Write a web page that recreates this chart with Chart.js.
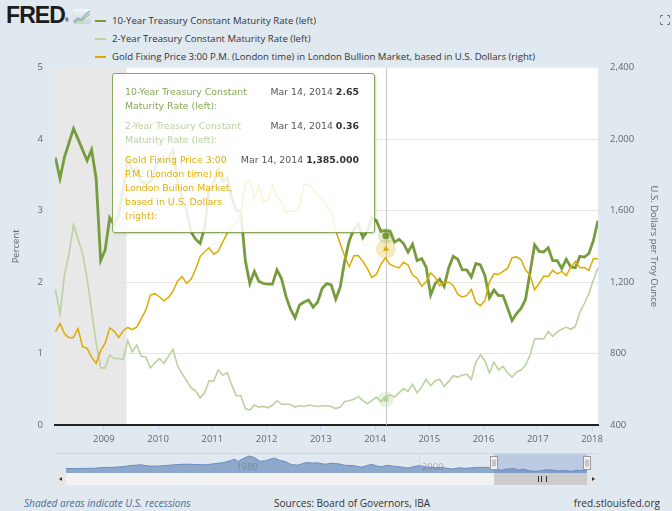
<!DOCTYPE html>
<html>
<head>
<meta charset="utf-8">
<script src="https://cdn.jsdelivr.net/npm/chart.js@4.4.1/dist/chart.umd.min.js"></script>
<style>
  body { margin: 0; width: 672px; height: 511px; background: #e1e9f0; position: relative; overflow: hidden;
         font-family: "Open Sans", sans-serif; color: #333; }
  #logo { position: absolute; left: 6px; top: 2px; font: bold 23px "Liberation Sans", sans-serif; letter-spacing: -0.9px; color: #1c1c1c; }
  #logo sup { font-size: 5px; letter-spacing: 0; vertical-align: 1px; }
  #icon { position: absolute; left: 73px; top: 9px; }
  #full { position: absolute; left: 660px; top: 15px; }
  .leg { position: absolute; left: 95px; height: 16px; line-height: 16px; font-size: 9.6px; white-space: nowrap; color: #333; }
  .leg i { display: inline-block; width: 11px; height: 2px; vertical-align: middle; margin-right: 6px; }
  #main { position: absolute; left: 0; top: 50px; }
  #nav { position: absolute; left: 55px; top: 453px; }
  #navTop { position: absolute; left: 55px; top: 453px; width: 543px; height: 1px; background: #ccd6eb; }
  #track { position: absolute; left: 55px; top: 473px; width: 543px; height: 12px; background: #f2f2f2; }
  .btn { position: absolute; top: 473px; width: 11px; height: 12px; background: #e6e6e6; }
  .btn b { position: absolute; top: 4px; width: 0; height: 0; border-top: 2px solid transparent; border-bottom: 2px solid transparent; }
  #thumb { position: absolute; top: 473px; height: 12px; background: #cccccc; }
  #thumb span { position: absolute; left: 50%; top: 3px; width: 7px; height: 6px; margin-left: -3px;
                border-left: 1px solid #333; border-right: 1px solid #333; }
  #thumb span:after { content: ""; position: absolute; left: 2px; top: 0; width: 1px; height: 6px; background: #333; }
  #tip { position: absolute; left: 112px; top: 73px; width: 263px; height: 160px; box-sizing: border-box;
         background: rgba(255,255,255,0.86); border: 1px solid #8aa85a; border-radius: 3px;
         box-shadow: 1px 1px 2px rgba(0,0,0,0.18); padding: 11px 15px 0 12px;
         font: 9.4px "DejaVu Sans", sans-serif; line-height: 14px; }
  .row { display: flex; justify-content: space-between; margin-bottom: 6px; }
  .row .v { white-space: nowrap; color: #555; }
  .row .v b { color: #333; }
  .foot { position: absolute; top: 496px; font-size: 10.1px; line-height: 14px; white-space: nowrap; }
</style>
</head>
<body>
<div id="logo">FRED<sup>&reg;</sup></div>
<svg id="icon" width="18" height="15" viewBox="0 0 18 15">
  <defs><linearGradient id="g" x1="0" y1="0" x2="0" y2="1"><stop offset="0" stop-color="#f4f6f8"/><stop offset="1" stop-color="#c9d3dc"/></linearGradient></defs>
  <rect x="0" y="0" width="18" height="15" rx="2" fill="url(#g)"/>
  <polyline points="1,13 5,9 8,11 12,6 17,2" fill="none" stroke="#7fa9d0" stroke-width="1.3"/>
  <polyline points="1,14 5,11 9,12 13,8 17,5" fill="none" stroke="#9cc27a" stroke-width="1.1"/>
</svg>
<svg id="full" width="10" height="10" viewBox="0 0 10 10" fill="none" stroke="#777" stroke-width="1">
  <path d="M0.5 3V0.5H3M7 0.5H9.5V3M9.5 7V9.5H7M3 9.5H0.5V7"/>
</svg>
<div id="legend"></div>

<canvas id="main" width="672" height="400"></canvas>

<div id="navTop"></div>
<canvas id="nav" width="543" height="20"></canvas>
<div id="track"></div>
<div class="btn" style="left:55px"><b style="left:4px;border-right:3px solid #333"></b></div>
<div class="btn" style="left:587px"><b style="left:5px;border-left:3px solid #333"></b></div>
<div id="thumb"><span></span></div>

<div id="tip"></div>

<div class="foot" style="left:24px;font-style:italic;color:#4d6b95">Shaded areas indicate U.S. recessions</div>
<div class="foot" style="left:274px;color:#333">Sources: Board of Governors, IBA</div>
<div class="foot" style="right:12px;color:#333">fred.stlouisfed.org</div>

<script>
// monthly observations, Feb 2008 .. Feb 2018
const firstYear = 2008;
const firstMonth = 2;

const tenYear = [
  3.74, 3.45, 3.75, 3.95, 4.15, 4.00, 3.85, 3.70, 3.85, 3.45, 2.30,
  2.45, 2.90, 2.80, 2.95, 3.30, 3.72, 3.56, 3.59, 3.40, 3.39, 3.40, 3.59,
  3.73, 3.69, 3.73, 3.85, 3.42, 3.20, 3.01, 2.70, 2.60, 2.54, 2.76, 3.29,
  3.39, 3.58, 3.41, 3.46, 3.17, 3.00, 3.00, 2.30, 1.98, 2.15, 2.01, 1.98,
  1.97, 1.97, 2.17, 2.05, 1.80, 1.62, 1.50, 1.68, 1.72, 1.75, 1.65, 1.72,
  1.91, 1.98, 1.96, 1.76, 1.93, 2.30, 2.58, 2.74, 2.81, 2.62, 2.72, 2.90,
  2.86, 2.71, 2.72, 2.71, 2.56, 2.60, 2.54, 2.42, 2.53, 2.30, 2.33, 2.21,
  1.82, 1.98, 2.04, 1.94, 2.20, 2.36, 2.32, 2.17, 2.17, 2.07, 2.26, 2.24,
  2.09, 1.78, 1.89, 1.81, 1.81, 1.64, 1.46, 1.56, 1.63, 1.76, 2.14, 2.52,
  2.43, 2.42, 2.48, 2.30, 2.30, 2.19, 2.32, 2.21, 2.20, 2.36, 2.35, 2.40,
  2.58, 2.86
];

const twoYear = [
  1.90, 1.55, 2.10, 2.40, 2.80, 2.60, 2.40, 2.05, 1.60, 1.15, 0.80,
  0.80, 0.98, 0.93, 0.93, 0.92, 1.18, 1.02, 1.12, 0.96, 0.95, 0.80, 0.87,
  0.93, 0.86, 0.96, 1.06, 0.83, 0.72, 0.62, 0.52, 0.48, 0.38, 0.45, 0.62,
  0.61, 0.77, 0.70, 0.73, 0.56, 0.41, 0.41, 0.23, 0.21, 0.28, 0.25, 0.26,
  0.24, 0.28, 0.34, 0.29, 0.29, 0.29, 0.25, 0.27, 0.26, 0.28, 0.27, 0.26,
  0.27, 0.27, 0.26, 0.23, 0.25, 0.33, 0.34, 0.36, 0.40, 0.34, 0.30, 0.34,
  0.39, 0.33, 0.40, 0.42, 0.39, 0.45, 0.51, 0.47, 0.57, 0.45, 0.53, 0.64,
  0.55, 0.62, 0.64, 0.54, 0.61, 0.69, 0.67, 0.70, 0.71, 0.64, 0.88, 0.98,
  0.90, 0.73, 0.88, 0.77, 0.82, 0.73, 0.67, 0.74, 0.77, 0.84, 0.98, 1.20,
  1.21, 1.20, 1.31, 1.24, 1.30, 1.34, 1.37, 1.34, 1.38, 1.58, 1.70, 1.84,
  2.03, 2.20
];

const gold = [
  922, 968, 910, 889, 890, 939, 839, 829, 780, 745, 816,
  858, 943, 925, 890, 928, 946, 934, 949, 996, 1043, 1127, 1135,
  1118, 1095, 1114, 1149, 1205, 1232, 1193, 1215, 1271, 1343, 1370, 1392,
  1356, 1372, 1424, 1474, 1512, 1529, 1573, 1756, 1772, 1665, 1739, 1652,
  1656, 1743, 1675, 1649, 1591, 1598, 1594, 1630, 1745, 1747, 1722, 1688,
  1671, 1627, 1593, 1487, 1414, 1343, 1286, 1347, 1349, 1316, 1275, 1225,
  1244, 1300, 1336, 1299, 1288, 1279, 1311, 1296, 1239, 1222, 1176, 1201,
  1251, 1227, 1179, 1198, 1199, 1181, 1131, 1117, 1125, 1159, 1086, 1068,
  1097, 1200, 1246, 1242, 1260, 1276, 1337, 1341, 1326, 1267, 1238, 1157,
  1192, 1234, 1231, 1266, 1246, 1260, 1236, 1283, 1315, 1280, 1282, 1265,
  1331, 1331
];

const seriesNames = [
  "10-Year Treasury Constant Maturity Rate (left)",
  "2-Year Treasury Constant Maturity Rate (left)",
  "Gold Fixing Price 3:00 P.M. (London time) in London Bullion Market, based in U.S. Dollars (right)"
];
const seriesColors = ["#779c3e", "#b9d29e", "#ddab00"];
const tipColors = ["#88a657", "#bcd2a4", "#e0b00a"];

const yearTicks = [2009, 2010, 2011, 2012, 2013, 2014, 2015, 2016, 2017, 2018];
const xMin = 2008.1, xMax = 2018.11;
const recessionStart = 2007.92, recessionEnd = 2009.42;

// hovered point shown in the tooltip
const hoverX = 2014.2;
const hoverDate = "Mar 14, 2014";
const hoverValues = [2.65, 0.36, 1385];
const hoverDigits = [2, 2, 3];
const tipLabels = [
  ["10-Year Treasury Constant", "Maturity Rate (left):"],
  ["2-Year Treasury Constant", "Maturity Rate (left):"],
  ["Gold Fixing Price 3:00", "P.M. (London time) in", "London Bullion Market,", "based in U.S. Dollars", "(right):"]
];

// navigator: 10-year rate, long history
const navYears = [1962, 1963, 1964, 1965, 1966, 1967, 1968, 1969, 1970, 1971, 1972, 1973, 1974, 1975, 1976, 1977, 1978, 1979,
  1980.2, 1980.5, 1981, 1981.7, 1982.3, 1982.9, 1983.5, 1984.4, 1985, 1985.6, 1986.3, 1987, 1987.8, 1988.5, 1989, 1989.9,
  1990.7, 1991.5, 1992, 1993, 1993.8, 1994.9, 1995.5, 1996, 1996.5, 1997, 1998, 1998.8, 1999.5, 2000, 2000.9, 2001.5, 2001.9,
  2002.4, 2003.5, 2004.4, 2005, 2006.5, 2007.5, 2008.1, 2008.9, 2009.5, 2010.3, 2010.8, 2011.1, 2011.9, 2012.5, 2013,
  2013.7, 2014.1, 2015.1, 2015.5, 2016.5, 2016.95, 2017.5, 2018.1];
const navValues = [4.0, 3.95, 4.15, 4.25, 4.9, 5.1, 5.6, 6.7, 7.4, 6.2, 6.2, 6.9, 7.6, 8.0, 7.6, 7.4, 8.4, 9.4,
  12.4, 10.3, 12.6, 15.3, 13.9, 10.5, 11.1, 13.5, 11.4, 10.3, 7.5, 7.1, 9.4, 9.0, 9.2, 7.9,
  8.9, 8.0, 7.0, 6.6, 5.3, 7.8, 6.2, 5.6, 6.9, 6.4, 5.5, 4.5, 5.8, 6.6, 5.2, 5.2, 4.6,
  5.1, 3.5, 4.7, 4.2, 5.1, 5.0, 3.7, 2.4, 3.7, 3.85, 2.5, 3.6, 2.0, 1.5, 1.9,
  2.8, 2.85, 1.8, 2.35, 1.5, 2.5, 2.2, 2.86];
const navTicks = [1980, 2000];
const navMin = 1960.82, navMax = 2019.28;

const monthX = i => firstYear + (firstMonth - 1 + i + 0.3) / 12;
const toPoints = arr => arr.map((v, i) => ({ x: monthX(i), y: v }));

Chart.defaults.font.family = "'Open Sans', sans-serif";
Chart.defaults.font.size = 9.5;
Chart.defaults.color = "#666";

// legend
const legend = document.getElementById("legend");
seriesNames.forEach((name, i) => {
  const d = document.createElement("div");
  d.className = "leg";
  d.style.top = (12.5 + i * 18) + "px";
  d.innerHTML = `<i style="background:${seriesColors[i]}"></i>${name}`;
  legend.appendChild(d);
});

// tooltip
const tip = document.getElementById("tip");
tipLabels.forEach((lines, i) => {
  const val = hoverValues[i].toLocaleString("en-US", { minimumFractionDigits: hoverDigits[i], maximumFractionDigits: hoverDigits[i] });
  const row = document.createElement("div");
  row.className = "row";
  row.innerHTML = `<div style="color:${tipColors[i]}">${lines.join("<br>")}</div>` +
                  `<div class="v">${hoverDate} <b>${val}</b></div>`;
  tip.appendChild(row);
});

const backdrop = {
  id: "backdrop",
  beforeDraw(chart) {
    const { ctx, chartArea: a, scales: { x } } = chart;
    ctx.save();
    ctx.fillStyle = "#ffffff";
    ctx.fillRect(a.left, a.top, a.width, a.height);
    const r0 = Math.max(a.left, x.getPixelForValue(recessionStart));
    const r1 = Math.min(a.right, x.getPixelForValue(recessionEnd));
    ctx.fillStyle = "#e8e8e8";
    ctx.fillRect(r0, a.top, r1 - r0, a.height);
    ctx.restore();
  },
  beforeDatasetsDraw(chart) {
    const { ctx, chartArea: a, scales: { x } } = chart;
    const px = Math.round(x.getPixelForValue(hoverX)) + 0.5;
    ctx.save();
    ctx.strokeStyle = "#c8c8c8";
    ctx.lineWidth = 1;
    ctx.beginPath();
    ctx.moveTo(px, a.top);
    ctx.lineTo(px, a.bottom);
    ctx.stroke();
    ctx.restore();
  }
};

const marker = (val, axis, style, color, halo, haloR) => ({
  data: [{ x: hoverX, y: val }, { x: hoverX, y: val }],
  yAxisID: axis,
  showLine: false,
  pointStyle: ["circle", style],
  pointRadius: [haloR, 3.5],
  pointBackgroundColor: [halo, color],
  pointBorderWidth: 0,
  order: -1
});

new Chart(document.getElementById("main"), {
  type: "line",
  data: {
    datasets: [
      { data: toPoints(tenYear), yAxisID: "y", borderColor: seriesColors[0], borderWidth: 2.8, pointRadius: 0, order: 1 },
      { data: toPoints(twoYear), yAxisID: "y", borderColor: seriesColors[1], borderWidth: 1.6, pointRadius: 0, order: 2 },
      { data: toPoints(gold), yAxisID: "y2", borderColor: seriesColors[2], borderWidth: 1.5, pointRadius: 0, order: 0 },
      marker(hoverValues[0], "y", "circle", seriesColors[0], "rgba(119,156,62,0.2)", 8),
      marker(hoverValues[1], "y", "rect", seriesColors[1], "rgba(185,210,158,0.3)", 8),
      marker(hoverValues[2], "y2", "triangle", seriesColors[2], "rgba(221,171,0,0.25)", 10)
    ]
  },
  options: {
    animation: false,
    responsive: false,
    devicePixelRatio: 1,
    events: [],
    layout: { padding: { top: 15, left: 0, right: 0, bottom: 0 } },
    plugins: { legend: { display: false }, tooltip: { enabled: false } },
    scales: {
      x: {
        type: "linear", min: xMin, max: xMax,
        afterBuildTicks: s => { s.ticks = yearTicks.map(v => ({ value: v })); },
        afterFit: s => { s.height = 25; },
        ticks: { callback: v => String(v), autoSkip: false, maxRotation: 0, padding: 3 },
        grid: { drawOnChartArea: false, tickLength: 6, color: "#ccd6eb" },
        border: { color: "#222", width: 2 }
      },
      y: {
        position: "left", min: 0, max: 5,
        afterFit: s => { s.width = 55; },
        ticks: { stepSize: 1, padding: 12 },
        grid: { drawTicks: false, color: c => (c.tick && c.tick.value === 5) ? "rgba(0,0,0,0)" : "#e6e6e6" },
        border: { display: false },
        title: { display: true, text: "Percent", padding: { top: 11, bottom: 0 } }
      },
      y2: {
        position: "right", min: 400, max: 2400,
        afterFit: s => { s.width = 74; },
        ticks: { stepSize: 400, padding: 12 },
        grid: { drawOnChartArea: false, drawTicks: false },
        border: { display: false },
        title: { display: true, text: "U.S. Dollars per Troy Ounce", padding: { top: 13, bottom: 0 } }
      }
    }
  },
  plugins: [backdrop]
});

const navDecor = {
  id: "navDecor",
  beforeDatasetsDraw(chart) {
    const { ctx, chartArea: a, scales: { x } } = chart;
    ctx.save();
    ctx.strokeStyle = "#d6dde6";
    navTicks.forEach(t => {
      const px = Math.round(x.getPixelForValue(t)) + 0.5;
      ctx.beginPath(); ctx.moveTo(px, a.top); ctx.lineTo(px, a.bottom); ctx.stroke();
    });
    ctx.restore();
  },
  afterDatasetsDraw(chart) {
    const { ctx, chartArea: a, scales: { x } } = chart;
    ctx.save();
    ctx.font = "9.5px 'Open Sans'";
    ctx.fillStyle = "rgba(100,100,100,0.45)";
    ctx.textBaseline = "middle";
    navTicks.forEach(t => ctx.fillText(String(t), x.getPixelForValue(t) + 3, 14));
    const x0 = x.getPixelForValue(xMin), x1 = x.getPixelForValue(xMax);
    ctx.fillStyle = "rgba(102,133,194,0.3)";
    ctx.fillRect(x0, a.top + 1, x1 - x0, a.height - 1);
    [x0, x1].forEach(px => {
      const hx = Math.round(px) - 3.5;
      ctx.fillStyle = "#f2f2f2";
      ctx.strokeStyle = "#999";
      ctx.fillRect(hx, 3.5, 7, 13);
      ctx.strokeRect(hx, 3.5, 7, 13);
      ctx.beginPath();
      ctx.moveTo(hx + 2.5, 6.5); ctx.lineTo(hx + 2.5, 13.5);
      ctx.moveTo(hx + 4.5, 6.5); ctx.lineTo(hx + 4.5, 13.5);
      ctx.stroke();
    });
    ctx.restore();
  }
};

const nav = new Chart(document.getElementById("nav"), {
  type: "line",
  data: {
    datasets: [{
      data: navYears.map((x, i) => ({ x, y: navValues[i] })),
      fill: "origin", backgroundColor: "#8ea8cb", borderColor: "#6a8cbd", borderWidth: 1, pointRadius: 0
    }]
  },
  options: {
    animation: false, responsive: false, devicePixelRatio: 1, events: [],
    layout: { padding: 0 },
    plugins: { legend: { display: false }, tooltip: { enabled: false } },
    scales: {
      x: { type: "linear", display: false, min: navMin, max: navMax },
      y: { display: false, min: 0, max: 18 }
    }
  },
  plugins: [navDecor]
});

// scrollbar thumb follows the selected range
const nx = nav.scales.x;
const thumb = document.getElementById("thumb");
const t0 = 55 + nx.getPixelForValue(xMin), t1 = 55 + nx.getPixelForValue(xMax);
thumb.style.left = t0 + "px";
thumb.style.width = (Math.min(t1, 587) - t0) + "px";
</script>
</body>
</html>
